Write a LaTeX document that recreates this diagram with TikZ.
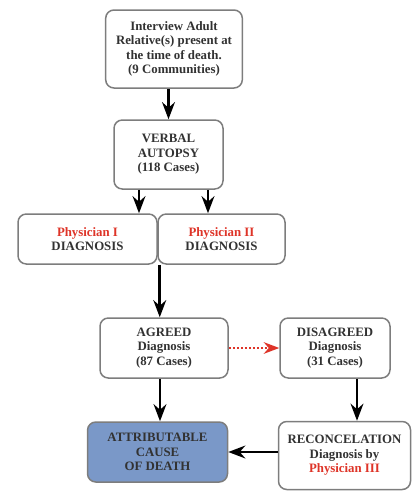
\documentclass[tikz,border=0pt]{standalone}
\usepackage{fontspec}
\setmainfont{Liberation Serif}
\usepackage{tikz}
\usetikzlibrary{arrows.meta,calc}
\definecolor{boxline}{RGB}{125,125,125}
\definecolor{boxtext}{RGB}{50,50,50}
\definecolor{physred}{RGB}{222,52,40}
\definecolor{causefill}{RGB}{122,152,200}

\begin{document}
\begin{tikzpicture}[x=0.6pt, y=-0.6pt, >=Stealth,
    box/.style={draw=boxline, line width=0.9pt, rounded corners=5pt, align=center,
        font=\fontsize{7.7}{8.7}\selectfont\bfseries, text=boxtext, inner sep=1pt},
    flow/.style={->, line width=1.6pt}]
    \useasboundingbox (0,0) rectangle (413,492);

    % Top of the chart
    \node[box, minimum width=82pt, minimum height=46.8pt] (interview) at (174,49)
        {Interview Adult\\Relative(s) present at\\the time of death.\\(9 Communities)};
    \node[box, minimum width=65.4pt, minimum height=41.4pt] (verbal) at (168.5,154.5)
        {VERBAL\\AUTOPSY\\(118 Cases)};

    % Two physicians
    \node[box, minimum width=83.4pt, minimum height=30pt] (phys1) at (87.5,239)
        {\textcolor{physred}{Physician I}\\DIAGNOSIS};
    \node[box, minimum width=76.2pt, minimum height=30pt] (phys2) at (221.5,239)
        {\textcolor{physred}{Physician II}\\DIAGNOSIS};

    % Agreement or not
    \node[box, minimum width=76.8pt, minimum height=36pt] (agreed) at (164,348)
        {AGREED\\Diagnosis\\(87 Cases)};
    \node[box, minimum width=66pt, minimum height=36pt] (disagreed) at (335,348)
        {DISAGREED\\Diagnosis\\(31 Cases)};

    % Bottom row
    \node[box, fill=causefill, minimum width=84pt, minimum height=36pt] (cause) at (157.5,452)
        {ATTRIBUTABLE\\CAUSE\\OF DEATH};
    \node[box, minimum width=79.2pt, minimum height=40.8pt] (recon) at (344.5,455.5)
        {RECONCELATION\\Diagnosis by\\\textcolor{physred}{Physician III}};

    % Arrows
    \draw[flow] (verbal.north |- interview.south) -- (verbal.north);
    \draw[flow] ($(verbal.south)+(-29.5,0)$) coordinate (vl) -- (vl |- phys1.north);
    \draw[flow] ($(verbal.south)+(39.5,0)$) coordinate (vr) -- (vr |- phys2.north);
    \draw[flow] ($(phys1.south east)+(2,0)$) coordinate (pj) -- (pj |- agreed.north);
    \draw[->, physred, densely dotted, line width=1.4pt] (agreed.east) -- (disagreed.west);
    \draw[flow] ($(agreed.south)+(-4,0)$) coordinate (ad) -- (ad |- cause.north);
    \draw[flow] ($(disagreed.south)+(22,0)$) coordinate (dd) -- (dd |- recon.north);
    \draw[flow] (recon.west |- cause.east) -- (cause.east);
\end{tikzpicture}
\end{document}
